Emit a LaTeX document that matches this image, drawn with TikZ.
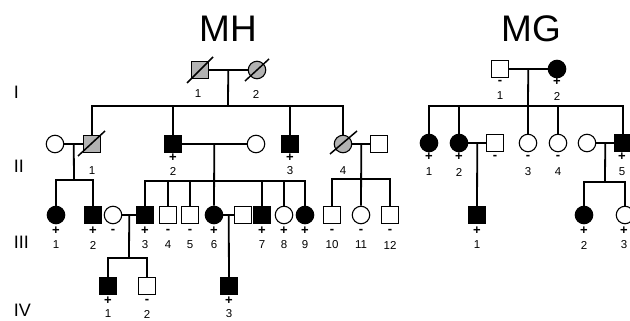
\documentclass[tikz,border=0pt]{standalone}
\usepackage{fontspec}
\setmainfont{Liberation Sans}

\tikzset{
  ind/.style={draw, line width=1.1pt, inner sep=0pt, minimum size=16.5pt},
  male/.style={ind, rectangle},
  female/.style={ind, circle, minimum size=17.5pt},
  aff/.style={fill=black},
  carr/.style={fill=gray!60},
  slash/.style={line width=1.5pt},
  sgn/.style={font=\bfseries\fontsize{13}{13}\selectfont, inner sep=0pt},
  num/.style={font=\fontsize{11.5}{11.5}\selectfont, inner sep=0pt},
  gen/.style={font=\fontsize{18}{18}\selectfont, anchor=west, inner sep=0pt},
  fam/.style={font=\fontsize{37}{37}\selectfont, inner sep=0pt}
}

\begin{document}
\begin{tikzpicture}[x=1pt, y=-1pt, line width=1.8pt]
  \clip (0,0) rectangle (630,321);

  % family names and generations
  \node[fam] (tMH) at (228,29) {MH};
  \node[fam] (tMG) at (531,29) {MG};
  \node[gen] (gI) at (13,92) {I};
  \node[gen] (gII) at (13,166) {II};
  \node[gen] (gIII) at (13,242) {III};
  \node[gen] (gIV) at (13,310) {IV};

  % MH, generation I
  \node[male,carr] (mhI1) at (200,70) {};
  \node[female,carr] (mhI2) at (257,70) {};
  \draw[slash] (mhI1.center) ++(-13,13) -- ++(26,-26);
  \draw[slash] (mhI2.center) ++(-12,11) -- ++(24,-22);
  \draw (mhI1) -- (mhI2) coordinate[midway] (mhIm);
  \coordinate (mhIsib) at (228,106);
  \draw (mhIm) -- (mhIsib);

  % MH, generation II
  \node[female] (mhIIw1) at (55,144) {};
  \node[male,carr] (mhII1) at (92,144) {};
  \node[male,aff] (mhII2) at (173,144) {};
  \node[female] (mhIIw2) at (256,144) {};
  \node[male,aff] (mhII3) at (290,144) {};
  \node[female,carr] (mhII4) at (343,144) {};
  \node[male] (mhIIh4) at (379,144) {};
  \draw[slash] (mhII1.center) ++(-14,12) -- ++(27,-25);
  \draw[slash] (mhII4.center) ++(-13,10) -- ++(27,-23);

  \draw (mhII1) |- (mhIsib) -| (mhII4);
  \draw (mhII2) -- (mhII2 |- mhIsib);
  \draw (mhII3) -- (mhII3 |- mhIsib);

  \draw (mhIIw1) -- (mhII1) coordinate[midway] (mhIIm1);
  \draw (mhII2) -- (mhIIw2) coordinate[midway] (mhIIm2);
  \draw (mhII4) -- (mhIIh4) coordinate[midway] (mhIIm4);

  % MH, generation III
  \node[female,aff] (mhIII1) at (56,215) {};
  \node[male,aff] (mhIII2) at (93,215) {};
  \node[female] (mhIIIw3) at (113,215) {};
  \node[male,aff] (mhIII3) at (145,215) {};
  \node[male] (mhIII4) at (168,215) {};
  \node[male] (mhIII5) at (190,215) {};
  \node[female,aff] (mhIII6) at (214,215) {};
  \node[male] (mhIIIh6) at (243,215) {};
  \node[male,aff] (mhIII7) at (262,215) {};
  \node[female] (mhIII8) at (284,215) {};
  \node[female,aff] (mhIII9) at (305,215) {};
  \node[male] (mhIII10) at (332,215) {};
  \node[female] (mhIII11) at (361,215) {};
  \node[male] (mhIII12) at (390,215) {};

  \coordinate (mhIIsib1) at (74,180);
  \draw (mhIIm1) -- (mhIIsib1);
  \draw (mhIII1) |- (mhIIsib1) -| (mhIII2);

  \coordinate (mhIIsib2) at (214,181);
  \draw (mhIIm2) -- (mhIII6);
  \draw (mhIII3) |- (mhIIsib2) -| (mhIII9);
  \foreach \k in {4,5,7,8}
    \draw (mhIII\k) -- (mhIII\k |- mhIIsib2);

  \coordinate (mhIIsib4) at (361,179);
  \draw (mhIIm4) -- (mhIII11);
  \draw (mhIII10) |- (mhIIsib4) -| (mhIII12);

  \draw (mhIIIw3) -- (mhIII3) coordinate[midway] (mhIIIm3);
  \draw (mhIII6) -- (mhIIIh6) coordinate[midway] (mhIIIm6);

  % MH, generation IV
  \node[male,aff] (mhIV1) at (108,286) {};
  \node[male] (mhIV2) at (147,286) {};
  \node[male,aff] (mhIV3) at (229,286) {};

  \coordinate (mhIIIsib3) at (129,258);
  \draw (mhIIIm3) -- (mhIIIsib3);
  \draw (mhIV1) |- (mhIIIsib3) -| (mhIV2);
  \draw (mhIIIm6) -- (mhIV3);

  % MG, generation I
  \node[male] (mgI1) at (500,69) {};
  \node[female,aff] (mgI2) at (557,69) {};
  \draw (mgI1) -- (mgI2) coordinate[midway] (mgIm);
  \coordinate (mgIsib) at (528,106);
  \draw (mgIm) -- (mgIsib);

  % MG, generation II
  \node[female,aff] (mgII1) at (429,143) {};
  \node[female,aff] (mgII2) at (459,143) {};
  \node[male] (mgIIh2) at (495,143) {};
  \node[female] (mgII3) at (528,143) {};
  \node[female] (mgII4) at (558,143) {};
  \node[female] (mgIIw5) at (587,143) {};
  \node[male,aff] (mgII5) at (623,143) {};

  \draw (mgII1) |- (mgIsib) -| (mgII5);
  \foreach \k in {2,3,4}
    \draw (mgII\k) -- (mgII\k |- mgIsib);

  \draw (mgII2) -- (mgIIh2) coordinate[midway] (mgIIm2);
  \draw (mgIIw5) -- (mgII5) coordinate[midway] (mgIIm5);

  % MG, generation III
  \node[male,aff] (mgIII1) at (477,215) {};
  \node[female,aff] (mgIII2) at (584,215) {};
  \node[female] (mgIII3) at (625,215) {};

  \draw (mgIIm2) -- (mgIII1);
  \coordinate (mgIIsib5) at (605,182);
  \draw (mgIIm5) -- (mgIIsib5);
  \draw (mgIII2) |- (mgIIsib5) -| (mgIII3);

  % test results and numbers
  \foreach \x/\n in {198/1, 256/2}
    \node[num] (mhIn\n) at (\x,94) {\n};
  \foreach \x/\s [count=\i] in {173/+, 290/+}
    \node[sgn] (mhIIs\i) at (\x,158) {\s};
  \foreach \x/\n in {92/1, 173/2, 290/3, 343/4}
    \node[num] (mhIIn\n) at (\x,171) {\n};
  \foreach \x/\s [count=\i] in {56/+, 93/+, 113/-, 145/+, 168/-, 190/-, 214/+, 262/+, 284/+, 305/+, 332/-, 361/-, 390/-}
    \node[sgn] (mhIIIs\i) at (\x,231) {\s};
  \foreach \x/\n in {56/1, 93/2, 145/3, 168/4, 190/5, 214/6, 262/7, 284/8, 305/9, 332/10, 361/11, 390/12}
    \node[num] (mhIIIn\n) at (\x,245) {\n};
  \foreach \x/\s/\n in {108/+/1, 147/-/2, 229/+/3} {
    \node[sgn] (mhIVs\n) at (\x,301) {\s};
    \node[num] (mhIVn\n) at (\x,314) {\n};
  }

  \foreach \x/\s/\n in {500/-/1, 557/+/2} {
    \node[sgn] (mgIs\n) at (\x,82) {\s};
    \node[num] (mgIn\n) at (\x,96) {\n};
  }
  \foreach \x/\s [count=\i] in {429/+, 459/+, 495/-, 528/-, 558/-, 622/+}
    \node[sgn] (mgIIs\i) at (\x,157) {\s};
  \foreach \x/\n in {429/1, 459/2, 528/3, 558/4, 622/5}
    \node[num] (mgIIn\n) at (\x,172) {\n};
  \foreach \x/\s/\n in {477/+/1, 584/+/2, 624/+/3} {
    \node[sgn] (mgIIIs\n) at (\x,231) {\s};
    \node[num] (mgIIIn\n) at (\x,245) {\n};
  }
\end{tikzpicture}
\end{document}
